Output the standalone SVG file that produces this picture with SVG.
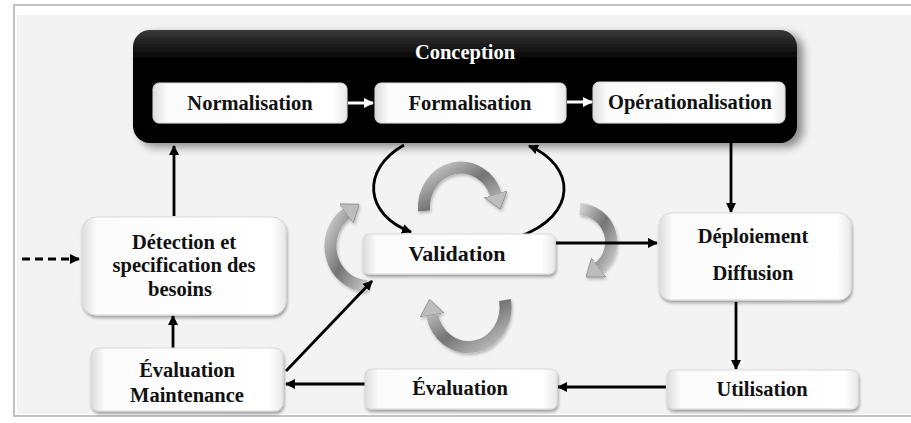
<svg xmlns="http://www.w3.org/2000/svg" width="911" height="423" viewBox="0 0 911 423">
  <style>
    .lbl { font-family: "Liberation Serif", "Times New Roman", serif; font-weight: bold; font-size: 20.5px; fill: #111; text-anchor: middle; }
    .lbl-w { fill: #ffffff; }
    .box { fill: url(#boxFill); stroke: #d9d9d9; stroke-width: 1; filter: url(#boxShadow); }
    .conn { fill: none; stroke: #000; stroke-width: 2.8; }
    .conn-w { fill: none; stroke: #fff; stroke-width: 3; }
    .ribbon { fill: none; stroke: url(#ribbonFill); stroke-width: 12; filter: url(#ribbonShadow); }
  </style>
  <defs>
    <linearGradient id="boxFill" x1="0" y1="0" x2="1" y2="0">
      <stop offset="0" stop-color="#dcdcdc"/>
      <stop offset="0.07" stop-color="#fbfbfb"/>
      <stop offset="0.93" stop-color="#ffffff"/>
      <stop offset="1" stop-color="#e8e8e8"/>
    </linearGradient>
    <linearGradient id="darkFill" x1="0" y1="0" x2="0" y2="1">
      <stop offset="0" stop-color="#3a3a3a"/>
      <stop offset="0.25" stop-color="#050505"/>
      <stop offset="1" stop-color="#000"/>
    </linearGradient>
    <linearGradient id="ribbonFill" x1="0" y1="0" x2="1" y2="1">
      <stop offset="0" stop-color="#d0d0d0"/>
      <stop offset="0.5" stop-color="#747474"/>
      <stop offset="1" stop-color="#c8c8c8"/>
    </linearGradient>
    <filter id="boxShadow" x="-10%" y="-20%" width="120%" height="150%">
      <feDropShadow dx="1" dy="2.5" stdDeviation="1.8" flood-color="#000" flood-opacity="0.35"/>
    </filter>
    <filter id="darkShadow" x="-5%" y="-10%" width="112%" height="130%">
      <feDropShadow dx="6" dy="4" stdDeviation="5" flood-color="#000" flood-opacity="0.45"/>
    </filter>
    <filter id="ribbonShadow" x="-30%" y="-30%" width="160%" height="160%">
      <feDropShadow dx="1" dy="2" stdDeviation="1.5" flood-color="#000" flood-opacity="0.25"/>
    </filter>
    <marker id="head" viewBox="0 0 10 10" refX="9" refY="5" markerWidth="10" markerHeight="10" markerUnits="userSpaceOnUse" orient="auto">
      <path d="M0 0 L10 5 L0 10 z" fill="#000"/>
    </marker>
    <marker id="headW" viewBox="0 0 10 10" refX="9" refY="5" markerWidth="10" markerHeight="10" markerUnits="userSpaceOnUse" orient="auto">
      <path d="M0 0 L10 5 L0 10 z" fill="#fff"/>
    </marker>
    <marker id="ribbonHead" viewBox="0 0 16 24" refX="1" refY="12" markerWidth="16" markerHeight="24" markerUnits="userSpaceOnUse" orient="auto">
      <path d="M0 0 L16 12 L0 24 z" fill="#bdbdbd" stroke="#8c8c8c" stroke-width="0.8"/>
    </marker>
  </defs>

  <!-- frame -->
  <rect x="0" y="0" width="911" height="423" fill="#ffffff"/>
  <rect x="14" y="5" width="905" height="411" fill="#ffffff" stroke="#c2c2c2" stroke-width="2"/>
  <rect x="17" y="15" width="900" height="399" fill="#f3f3f3"/>

  <!-- Conception container -->
  <g id="conception">
    <rect x="133" y="30" width="664" height="113" rx="17" fill="url(#darkFill)" filter="url(#darkShadow)"/>
    <text class="lbl lbl-w" x="465" y="59">Conception</text>
  </g>

  <g id="normalisation">
    <rect class="box" x="153" y="83" width="194" height="40" rx="6"/>
    <text class="lbl" x="250" y="110">Normalisation</text>
  </g>
  <g id="formalisation">
    <rect class="box" x="375" y="83" width="191" height="40" rx="6"/>
    <text class="lbl" x="470" y="110">Formalisation</text>
  </g>
  <g id="operationalisation">
    <rect class="box" x="593" y="82" width="192" height="41" rx="6"/>
    <text class="lbl" x="690" y="109">Opérationalisation</text>
  </g>

  <!-- rotating cycle ribbons around Validation -->
  <g id="cycle">
    <path class="ribbon" d="M 424 211 A 37 40 0 0 1 496 195" marker-end="url(#ribbonHead)"/>
    <path class="ribbon" d="M 367 286 A 38 40 0 0 1 347 213" marker-end="url(#ribbonHead)"/>
    <path class="ribbon" d="M 580 209 A 34 33 0 0 1 598 268" marker-end="url(#ribbonHead)"/>
    <path class="ribbon" d="M 505 300 A 37 40 0 0 1 432 314" marker-end="url(#ribbonHead)"/>
  </g>

  <g id="connectors">
    <path class="conn-w" d="M 348 103 L 373 103" marker-end="url(#headW)"/>
    <path class="conn-w" d="M 567 102 L 592 102" marker-end="url(#headW)"/>
    <path class="conn" d="M 404 145 C 360 170, 365 215, 411 232" marker-end="url(#head)"/>
    <path class="conn" d="M 518 237 C 580 215, 575 165, 529 146" marker-end="url(#head)"/>
    <path class="conn" d="M 556 243 L 657 243" marker-end="url(#head)"/>
    <path class="conn" d="M 731 143 L 731 212" marker-end="url(#head)"/>
    <path class="conn" d="M 736 302 L 736 369" marker-end="url(#head)"/>
    <path class="conn" d="M 666 387 L 558 387" marker-end="url(#head)"/>
    <path class="conn" d="M 365 384 L 286 384" marker-end="url(#head)"/>
    <path class="conn" d="M 286 371 L 372 281" marker-end="url(#head)"/>
    <path class="conn" d="M 173 348 L 173 316" marker-end="url(#head)"/>
    <path class="conn" d="M 174 216 L 174 146" marker-end="url(#head)"/>
    <path class="conn" d="M 22 259 L 79 259" stroke-dasharray="8 5" marker-end="url(#head)"/>
  </g>

  <g id="validation">
    <rect class="box" x="363" y="234" width="192" height="40" rx="6"/>
    <text class="lbl" x="457" y="261" style="font-size:22px">Validation</text>
  </g>
  <g id="detection">
    <rect class="box" x="82" y="217" width="204" height="98" rx="14"/>
    <text class="lbl" x="184" y="249">Détection et</text>
    <text class="lbl" x="184" y="272">specification des</text>
    <text class="lbl" x="180" y="296">besoins</text>
  </g>
  <g id="evaluation-maintenance">
    <rect class="box" x="91" y="348" width="192" height="63" rx="8"/>
    <text class="lbl" x="187" y="377">Évaluation</text>
    <text class="lbl" x="187" y="402">Maintenance</text>
  </g>
  <g id="evaluation">
    <rect class="box" x="365" y="369" width="192" height="40" rx="6"/>
    <text class="lbl" x="460" y="395">Évaluation</text>
  </g>
  <g id="utilisation">
    <rect class="box" x="667" y="370" width="191" height="39" rx="6"/>
    <text class="lbl" x="762" y="396">Utilisation</text>
  </g>
  <g id="deploiement">
    <rect class="box" x="659" y="213" width="192" height="87" rx="12"/>
    <text class="lbl" x="753" y="243">Déploiement</text>
    <text class="lbl" x="753" y="280">Diffusion</text>
  </g>
</svg>
